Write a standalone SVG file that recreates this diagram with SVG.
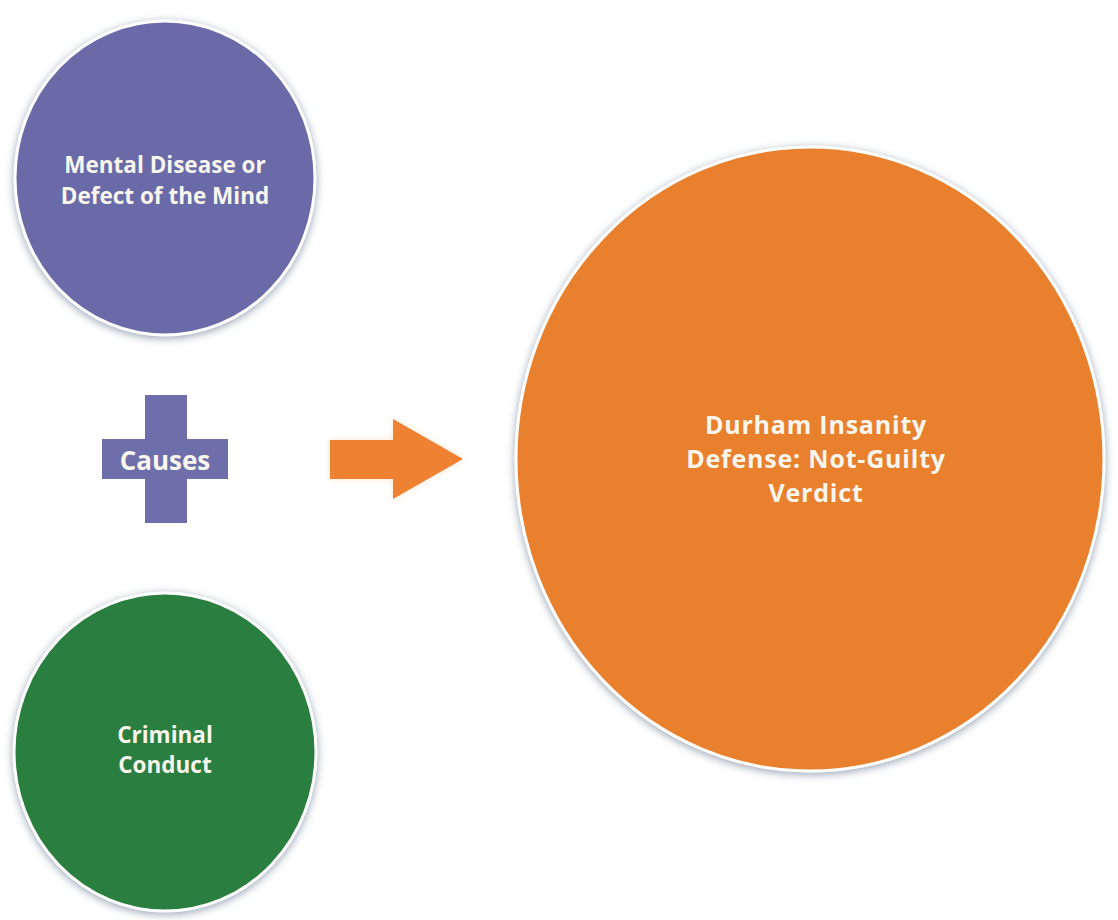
<svg xmlns="http://www.w3.org/2000/svg" width="1118" height="920" viewBox="0 0 1118 920">
  <defs>
    <filter id="glow" x="-10%" y="-10%" width="120%" height="120%">
      <feDropShadow dx="0" dy="2" stdDeviation="4" flood-color="#7d8ea3" flood-opacity="0.8"/>
    </filter>
    <filter id="soft" x="-10%" y="-10%" width="120%" height="120%">
      <feDropShadow dx="0" dy="0" stdDeviation="3" flood-color="#f3c89a" flood-opacity="0.5"/>
    </filter>
  </defs>
  <style>
    .ring { stroke: #ffffff; stroke-width: 3; filter: url(#glow); }
    .lbl { font-family: "Open Sans", Lato, "Liberation Sans", sans-serif; font-weight: 700; fill: #f9f6ee; text-anchor: middle; }
  </style>
  <rect width="1118" height="920" fill="#ffffff"/>

  <g id="node-mental">
    <ellipse class="ring" cx="165" cy="178" rx="150" ry="157" fill="#6b6ba8"/>
    <text class="lbl" x="165" y="173" font-size="22.5">Mental Disease or</text>
    <text class="lbl" x="165" y="204" font-size="22.5">Defect of the Mind</text>
  </g>

  <g id="node-causes">
    <rect x="145" y="395" width="42" height="128" fill="#6e6eab"/>
    <rect x="102" y="439" width="126" height="40" fill="#6e6eab"/>
    <text class="lbl" x="165" y="470" font-size="26">Causes</text>
  </g>

  <g id="node-criminal">
    <ellipse class="ring" cx="165" cy="752" rx="151" ry="159" fill="#2b7e3f"/>
    <text class="lbl" x="165" y="743" font-size="22.5">Criminal</text>
    <text class="lbl" x="165" y="773" font-size="22.5">Conduct</text>
  </g>

  <g id="node-durham">
    <ellipse class="ring" cx="810" cy="459" rx="294" ry="312" fill="#e8802e"/>
    <text class="lbl" x="816" y="434" font-size="25" letter-spacing="0.8">Durham Insanity</text>
    <text class="lbl" x="816" y="468" font-size="25" letter-spacing="0.8">Defense: Not-Guilty</text>
    <text class="lbl" x="816" y="502" font-size="25" letter-spacing="0.8">Verdict</text>
  </g>

  <g id="connectors">
    <polygon filter="url(#soft)" points="330,440 393,440 393,419 463,459 393,499 393,479 330,479" fill="#ee8130"/>
  </g>
</svg>
